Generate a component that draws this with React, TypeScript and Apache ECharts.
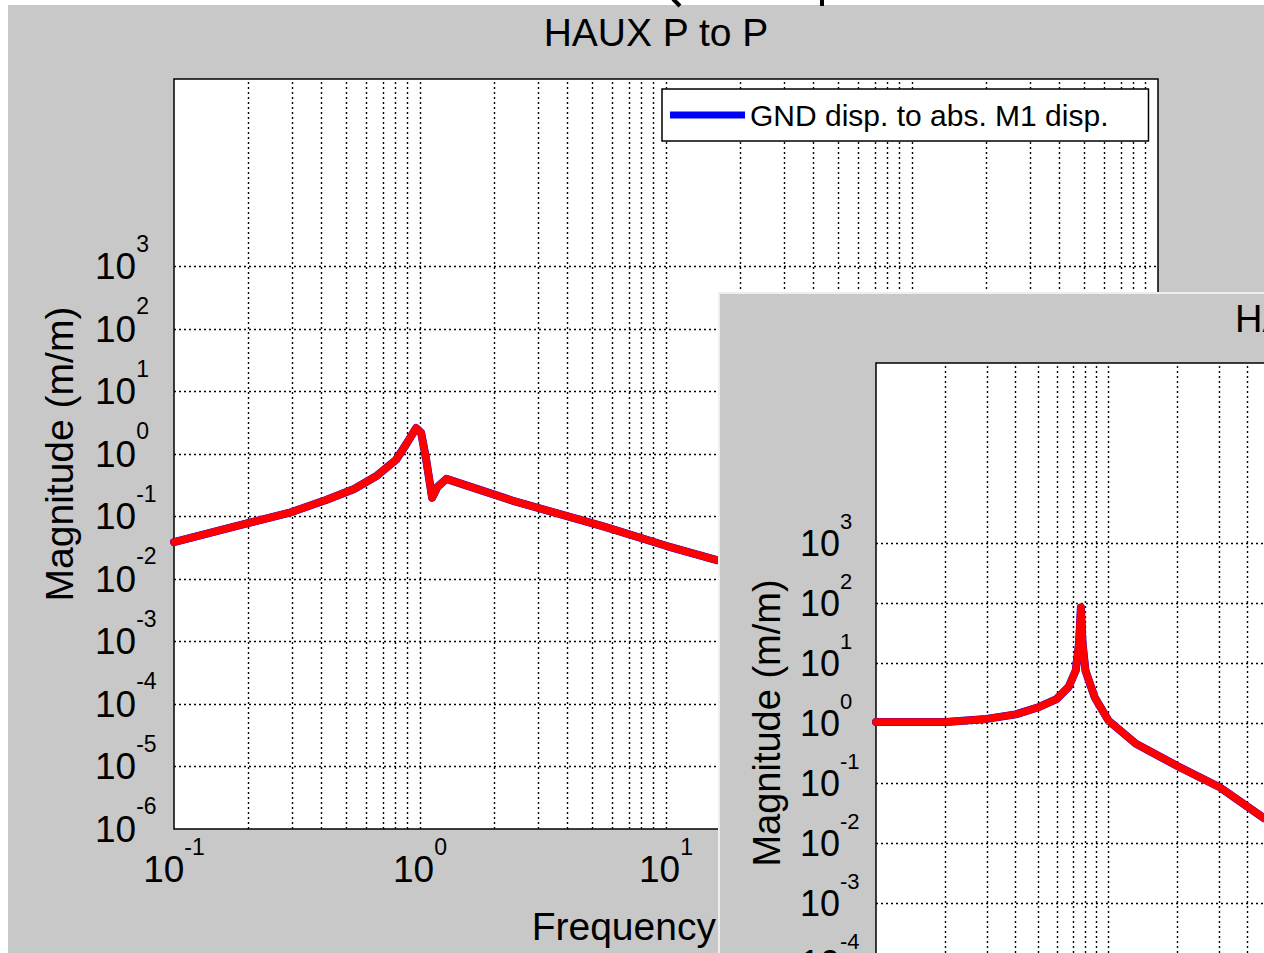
import React, { useEffect, useRef } from 'react';
import * as echarts from 'echarts';

const FONT = '"Liberation Sans", Arial, Helvetica, sans-serif';

// ---------- data ----------
// Window 1: "HAUX P to P"
const freq1 = [0.1, 0.174, 0.293, 0.415, 0.54, 0.668, 0.8, 0.885, 0.964, 1.01, 1.057, 1.12, 1.18, 1.28, 2.37, 5.65, 10, 16.1];
const mag1 = [0.039, 0.068, 0.114, 0.184, 0.276, 0.45, 0.81, 1.5, 2.6, 2.2, 0.86, 0.2, 0.3, 0.4, 0.18, 0.068, 0.034, 0.02];

// Window 2 (partly visible)
const freq2 = [0.1, 0.2, 0.3, 0.4, 0.505, 0.6, 0.677, 0.726, 0.75, 0.764, 0.777, 0.8, 0.877, 1.006, 1.32, 2.0, 3.03, 4.7];
const mag2 = [1.04, 1.04, 1.17, 1.39, 1.85, 2.5, 4, 7.5, 21, 84, 21, 7.4, 2.66, 1.09, 0.45, 0.19, 0.085, 0.026];

// tick exponents (labels are 10^n)
const xTickExps = [-1, 0, 1, 2, 3];
const yTickExps = [-6, -5, -4, -3, -2, -1, 0, 1, 2, 3];
const minorFactors = [2, 3, 4, 5, 6, 7, 8, 9];

const title1 = 'HAUX P to P';
const title2 = 'HAUX L to L';
const legendLabel = 'GND disp. to abs. M1 disp.';
const xAxisName = 'Frequency (Hz)';
const yAxisName = 'Magnitude (m/m)';

const X_MIN = -1;
const X_MAX = 3;
const Y_MIN = -6;
const Y_MAX = 6;

type PlotCfg = {
  left: number;
  top: number;
  width: number;
  height: number;
  freq: number[];
  mag: number[];
  baseFont: number;
  expFont: number;
  nameFont: number;
  xLabelMargin: number;
  yLabelMargin: number;
  yNameGap: number;
  xNameGap: number;
};

function buildPlotOption(c: PlotCfg) {
  const lineData = c.freq.map((f, i) => [Math.log10(f), Math.log10(c.mag[i])]);
  const vGrid: any[] = [];
  for (let n = X_MIN; n < X_MAX; n++) {
    for (const k of minorFactors) vGrid.push({ xAxis: n + Math.log10(k) });
  }
  for (const n of xTickExps) if (n > X_MIN && n < X_MAX) vGrid.push({ xAxis: n });
  const hGrid = yTickExps.filter((n) => n > Y_MIN && n < Y_MAX).map((n) => ({ yAxis: n }));

  const pad = Math.round(c.baseFont * 0.62 + c.expFont / 2 - c.baseFont / 2);
  const rich = {
    b: { fontSize: c.baseFont, fontFamily: FONT, color: '#000', height: c.baseFont, padding: [pad, 0, pad, 0] },
    e: { fontSize: c.expFont, fontFamily: FONT, color: '#000', height: c.expFont, verticalAlign: 'top' },
  };
  const fmt = (ticks: number[]) => (v: number) => {
    const n = Math.round(v);
    return ticks.includes(n) && Math.abs(v - n) < 1e-6 ? `{b|10}{e|${n}}` : '';
  };

  return {
    grid: {
      left: c.left,
      top: c.top,
      width: c.width,
      height: c.height,
      show: true,
      backgroundColor: '#ffffff',
      borderColor: '#000000',
      borderWidth: 1.5,
      containLabel: false,
    },
    xAxis: {
      type: 'value',
      min: X_MIN,
      max: X_MAX,
      interval: 1,
      axisLine: { show: false },
      axisTick: { show: false },
      splitLine: { show: false },
      axisLabel: { formatter: fmt(xTickExps), rich, margin: c.xLabelMargin, showMinLabel: true, showMaxLabel: true },
      name: xAxisName,
      nameLocation: 'middle',
      nameGap: c.xNameGap,
      nameTextStyle: { fontSize: c.nameFont, fontFamily: FONT, color: '#000' },
    },
    yAxis: {
      type: 'value',
      min: Y_MIN,
      max: Y_MAX,
      interval: 1,
      axisLine: { show: false },
      axisTick: { show: false },
      splitLine: { show: false },
      axisLabel: { formatter: fmt(yTickExps), rich, margin: c.yLabelMargin, align: 'left', showMinLabel: true, showMaxLabel: true },
      name: yAxisName,
      nameLocation: 'middle',
      nameGap: c.yNameGap,
      nameRotate: 90,
      nameTextStyle: { fontSize: c.nameFont, fontFamily: FONT, color: '#000' },
    },
    series: [
      {
        type: 'line',
        name: legendLabel,
        data: lineData,
        color: '#0000ff',
        symbol: 'none',
        showSymbol: false,
        z: 3,
        lineStyle: { color: '#0000ff', width: 8, join: 'round', cap: 'round' },
        markLine: {
          z: 1,
          silent: true,
          symbol: ['none', 'none'],
          label: { show: false },
          lineStyle: { color: '#000000', type: [2, 3], width: 1.4 },
          emphasis: { disabled: true },
          data: [...vGrid, ...hGrid],
        },
      },
      {
        type: 'line',
        data: lineData,
        color: '#ff0000',
        symbol: 'none',
        showSymbol: false,
        z: 4,
        lineStyle: { color: '#ff0000', width: 7.5, join: 'round', cap: 'round' },
      },
    ],
  };
}

function option1() {
  const base: any = buildPlotOption({
    left: 174,
    top: 79,
    width: 984,
    height: 750,
    freq: freq1,
    mag: mag1,
    baseFont: 37,
    expFont: 23,
    nameFont: 39,
    xLabelMargin: 6,
    yLabelMargin: 79,
    yNameGap: 95,
    xNameGap: 78,
  });
  return {
    animation: false,
    backgroundColor: '#c8c8c8',
    ...base,
    legend: {
      data: [{ name: legendLabel, icon: 'rect' }],
      left: 662,
      top: 89,
      orient: 'horizontal',
      padding: [11, 40, 11, 8],
      itemWidth: 75,
      itemHeight: 7,
      backgroundColor: '#ffffff',
      borderColor: '#000000',
      borderWidth: 1.5,
      selectedMode: false,
      textStyle: { fontSize: 30, fontFamily: FONT, color: '#000', lineHeight: 30 },
    },
    graphic: [
      { type: 'rect', shape: { x: 0, y: 0, width: 1264, height: 5 }, style: { fill: '#ffffff' }, z: 100 },
      { type: 'rect', shape: { x: 0, y: 0, width: 8, height: 953 }, style: { fill: '#ffffff' }, z: 100 },
      { type: 'line', shape: { x1: 673, y1: -1, x2: 680, y2: 6 }, style: { stroke: '#000', lineWidth: 4 }, z: 101 },
      { type: 'line', shape: { x1: 822, y1: -1, x2: 822, y2: 6 }, style: { stroke: '#000', lineWidth: 4 }, z: 101 },
      {
        type: 'text',
        x: 656,
        y: 32,
        z: 50,
        style: { text: title1, fontSize: 39, fontFamily: FONT, fill: '#000', align: 'center', verticalAlign: 'middle' },
      },
    ],
  };
}

function option2() {
  const base: any = buildPlotOption({
    left: 158,
    top: 71,
    width: 928,
    height: 720,
    freq: freq2,
    mag: mag2,
    baseFont: 36,
    expFont: 22,
    nameFont: 38,
    xLabelMargin: 6,
    yLabelMargin: 76,
    yNameGap: 90,
    xNameGap: 76,
  });
  return {
    animation: false,
    backgroundColor: '#c8c8c8',
    ...base,
    graphic: [
      { type: 'rect', shape: { x: 0, y: 0, width: 1200, height: 2 }, style: { fill: '#eeeeee' }, z: 100 },
      { type: 'rect', shape: { x: 0, y: 0, width: 2, height: 1000 }, style: { fill: '#eeeeee' }, z: 100 },
      {
        type: 'text',
        x: 622,
        y: 27,
        z: 50,
        style: { text: title2, fontSize: 38, fontFamily: FONT, fill: '#000', align: 'center', verticalAlign: 'middle' },
      },
    ],
  };
}

export default function App() {
  const r1 = useRef<HTMLDivElement>(null);
  const r2 = useRef<HTMLDivElement>(null);
  useEffect(() => {
    const c1 = echarts.init(r1.current as HTMLDivElement, null, { renderer: 'svg' });
    c1.setOption(option1() as any);
    const c2 = echarts.init(r2.current as HTMLDivElement, null, { renderer: 'svg' });
    c2.setOption(option2() as any);
    return () => {
      c1.dispose();
      c2.dispose();
    };
  }, []);
  return (
    <div style={{ position: 'absolute', left: 0, top: 0, width: 1264, height: 953, overflow: 'hidden', background: '#fff' }}>
      <div ref={r1} style={{ position: 'absolute', left: 0, top: 0, width: 1264, height: 953 }} />
      <div style={{ position: 'absolute', left: 718, top: 292, width: 546, height: 661, overflow: 'hidden' }}>
        <div ref={r2} style={{ position: 'absolute', left: 0, top: 0, width: 1200, height: 1000 }} />
      </div>
    </div>
  );
}
